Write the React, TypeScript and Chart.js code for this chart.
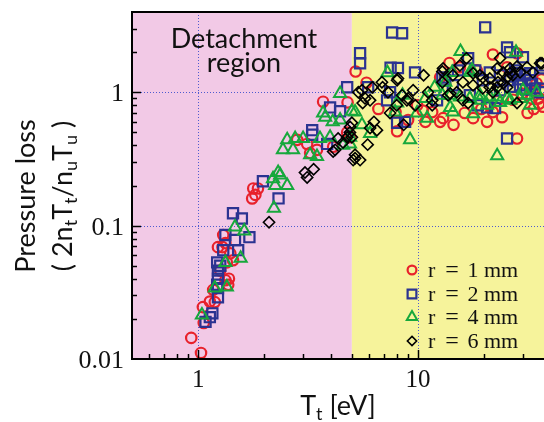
import { useEffect, useRef } from "react";
import { Chart, registerables } from "chart.js";

Chart.register(...registerables);

// [target temperature T_t (eV), pressure loss 2 n_t T_t / (n_u T_u)]
type Pt = [number, number];

const r1mm: Pt[] = [
  [0.93, 0.0144], [1.03, 0.0111], [1.05, 0.0245], [1.06, 0.0186], [1.13, 0.027],
  [1.17, 0.033], [1.19, 0.0267], [1.26, 0.046], [1.33, 0.039], [1.38, 0.04],
  [1.35, 0.053], [1.37, 0.036], [1.4, 0.062], [1.44, 0.055], [1.23, 0.069],
  [1.29, 0.069], [1.3, 0.085], [1.33, 0.074], [1.76, 0.16], [1.78, 0.19],
  [1.87, 0.19], [1.82, 0.17], [2.82, 0.44], [3.13, 0.41], [3.23, 0.35],
  [3.47, 0.37], [3.7, 0.85], [4.11, 0.39], [4.78, 0.84], [4.76, 0.5],
  [4.91, 0.46], [5.2, 1.43], [5.83, 1.18], [6.6, 0.75], [7.9, 0.71],
  [8.03, 0.51], [9.01, 0.62], [9.9, 0.8], [10.5, 0.73], [10.8, 0.6],
  [11.6, 0.71], [12.6, 0.6], [12.6, 1.29], [13.0, 0.64], [13.9, 1.66],
  [14.5, 0.57], [15.5, 1.54], [16.3, 0.7], [17.8, 0.64], [18.5, 1.46],
  [19.4, 0.75], [20.6, 0.6], [21.9, 1.92], [21.9, 0.71], [24.1, 0.65],
  [25.4, 1.54], [28.2, 1.96], [28.2, 0.45], [29.7, 0.98], [32.3, 1.17],
  [32.9, 0.9], [33.6, 0.75], [34.6, 1.17], [35.5, 0.9], [36.8, 1.05],
  [35.5, 0.82], [37.0, 0.78], [31.5, 0.7], [36.5, 1.25], [27.0, 0.88],
  [23.0, 0.86],
];

const r2mm: Pt[] = [
  [1.08, 0.019], [1.13, 0.0206], [1.16, 0.022], [1.22, 0.036], [1.23, 0.029],
  [1.23, 0.034], [1.23, 0.04], [1.23, 0.046], [1.22, 0.053], [1.26, 0.05],
  [1.3, 0.0655], [1.52, 0.0655], [1.47, 0.078], [1.33, 0.085], [1.71, 0.082],
  [1.58, 0.113], [1.44, 0.124], [1.97, 0.215], [2.32, 0.16], [3.3, 0.52],
  [3.3, 0.48], [3.86, 0.41], [3.98, 0.77], [4.42, 0.72], [4.76, 1.09],
  [5.45, 1.96], [5.45, 1.65], [5.93, 1.09], [7.23, 0.87], [7.46, 1.0],
  [7.5, 1.53], [8.1, 1.52], [7.62, 2.81], [8.46, 2.77], [8.03, 0.59],
  [8.73, 0.6], [9.69, 1.41], [12.2, 0.87], [12.9, 1.29], [13.3, 1.23],
  [14.4, 1.13], [15.2, 1.46], [16.9, 1.8], [17.2, 0.95], [18.2, 1.46],
  [18.7, 0.8], [19.7, 1.23], [20.2, 3.07], [20.6, 0.77], [21.2, 1.41],
  [22.4, 0.76], [23.6, 1.035], [23.6, 1.34], [25.4, 2.17], [25.4, 0.45],
  [26.2, 2.0], [26.2, 1.23], [27.6, 1.46], [28.2, 1.39], [29.1, 1.13],
  [30.0, 1.83], [30.6, 1.34], [32.3, 1.23], [32.3, 1.39], [34.0, 1.07],
  [35.9, 1.27], [36.6, 1.59], [36.0, 1.0], [33.0, 1.15], [31.0, 1.05],
  [28.5, 1.25], [27.0, 1.1],
];

const r4mm: Pt[] = [
  [1.04, 0.0214], [1.19, 0.034], [1.35, 0.0346], [1.33, 0.053], [1.56, 0.057],
  [1.47, 0.0975], [1.62, 0.091], [2.21, 0.135], [2.19, 0.225], [2.31, 0.25],
  [2.36, 0.24], [2.24, 0.2], [2.54, 0.2], [2.43, 0.37], [2.54, 0.44],
  [2.7, 0.37], [2.76, 0.45], [3.0, 0.45], [3.23, 0.34], [3.47, 0.33],
  [3.58, 0.45], [3.7, 0.7], [3.78, 0.65], [3.98, 0.46], [4.09, 0.6],
  [4.42, 0.62], [4.42, 0.98], [4.56, 0.4], [4.9, 0.41], [4.91, 0.46],
  [5.0, 0.72], [5.17, 0.71], [5.56, 0.57], [6.05, 0.49], [7.26, 1.4],
  [7.86, 0.71], [8.03, 0.83], [8.5, 0.95], [9.2, 0.44], [9.9, 0.7],
  [10.8, 0.9], [11.0, 0.64], [11.9, 1.09], [12.9, 0.95], [13.3, 1.19],
  [14.0, 0.77], [14.0, 0.95], [14.3, 1.41], [14.4, 0.71], [15.6, 2.02],
  [15.5, 0.92], [17.2, 1.41], [17.2, 0.9], [17.6, 1.46], [17.8, 0.69],
  [19.1, 0.87], [19.1, 0.95], [20.6, 0.8], [21.2, 0.92], [22.9, 0.92],
  [22.9, 0.335], [23.6, 0.84], [25.4, 0.9], [26.2, 0.87], [27.9, 2.0],
  [29.1, 0.9], [30.0, 1.035], [31.3, 0.95], [32.3, 0.8], [34.6, 1.0],
];

const r6mm: Pt[] = [
  [2.1, 0.106], [3.06, 0.25], [3.13, 0.23], [3.35, 0.265], [4.11, 0.36],
  [4.2, 0.37], [4.33, 0.45], [4.56, 0.42], [4.76, 0.46], [4.9, 0.5],
  [4.91, 0.55], [5.0, 0.59], [5.0, 0.46], [5.07, 0.31], [5.17, 0.34],
  [5.17, 0.32], [5.45, 0.31], [5.35, 1.0], [5.56, 1.035], [5.6, 0.83],
  [5.74, 0.9], [5.9, 0.405], [6.05, 0.87], [6.05, 0.54], [6.2, 1.09],
  [6.3, 0.6], [6.5, 0.52], [6.85, 1.19], [6.9, 1.09], [7.3, 1.0],
  [7.46, 0.7], [8.0, 0.8], [8.03, 1.23], [8.1, 1.27], [8.46, 0.95],
  [8.6, 0.57], [8.9, 0.87], [9.0, 0.9], [9.5, 1.035], [9.7, 0.8],
  [10.6, 1.34], [11.1, 1.0], [11.6, 0.87], [11.6, 0.8], [12.9, 1.43],
  [12.9, 1.19], [13.0, 1.51], [13.7, 0.95], [14.0, 0.98], [14.4, 1.34],
  [15.0, 1.0], [15.5, 1.59], [16.0, 1.19], [16.0, 0.87], [16.6, 1.8],
  [16.9, 0.83], [17.8, 1.39], [17.8, 1.13], [19.1, 1.34], [19.7, 1.29],
  [19.7, 1.07], [21.2, 1.27], [21.2, 1.09], [21.9, 1.0], [22.9, 1.09],
  [22.9, 1.51], [23.1, 1.19], [23.6, 1.8], [24.4, 1.41], [24.4, 1.17],
  [25.4, 1.29], [25.4, 1.09], [26.2, 1.51], [26.2, 1.39], [27.0, 1.34],
  [28.2, 1.56], [28.2, 0.83], [29.1, 1.41], [31.3, 1.54], [33.3, 1.41],
  [35.9, 1.65], [36.6, 1.65],
];

const seriesLabels = ["r = 1 mm", "r = 2 mm", "r = 4 mm", "r = 6 mm"];
const xTickValues = [1, 10];
const xTickLabels = ["1", "10"];
const yTickValues = [0.01, 0.1, 1];
const yTickLabels = ["0.01", "0.1", "1"];
const xRange: [number, number] = [0.5, 37.4];
const yRange: [number, number] = [0.01, 4];
const detachmentEdge = 5; // eV, upper end of the detachment region

const RED = "#e8212b";
const BLUE = "#2b3391";
const GREEN = "#17a83c";
const BLACK = "#000000";
const PINK = "#f2c9e6";
const YELLOW = "#f6f39b";
const GRID = "#4f5bd0";
const INK = "#111111";
const SANS = "Lato, 'Open Sans', sans-serif";
const SERIF = "'Liberation Serif', 'DejaVu Serif', serif";

type Marker = "circle" | "rect" | "triangle" | "rectRot";

const series: { data: Pt[]; color: string; style: Marker; radius: number; width: number }[] = [
  { data: r1mm, color: RED, style: "circle", radius: 5.2, width: 2.2 },
  { data: r2mm, color: BLUE, style: "rect", radius: 7.2, width: 2.2 },
  { data: r4mm, color: GREEN, style: "triangle", radius: 7, width: 2 },
  { data: r6mm, color: BLACK, style: "rectRot", radius: 5.6, width: 1.6 },
];

function marker(ctx: CanvasRenderingContext2D, style: Marker, x: number, y: number, r: number) {
  ctx.beginPath();
  if (style === "circle") {
    ctx.arc(x, y, r, 0, Math.PI * 2);
  } else if (style === "rect") {
    const h = r * Math.SQRT1_2;
    ctx.rect(x - h, y - h, 2 * h, 2 * h);
  } else if (style === "triangle") {
    for (let k = 0; k < 3; k++) {
      const a = (k * 2 * Math.PI) / 3;
      const px = x + Math.sin(a) * r;
      const py = y - Math.cos(a) * r;
      if (k === 0) ctx.moveTo(px, py);
      else ctx.lineTo(px, py);
    }
    ctx.closePath();
  } else {
    ctx.moveTo(x, y - r);
    ctx.lineTo(x + r, y);
    ctx.lineTo(x, y + r);
    ctx.lineTo(x - r, y);
    ctx.closePath();
  }
  ctx.stroke();
}

type Run = { t: string; sub?: boolean };

// draws a line of text with subscripts, centred on cx
function drawRuns(ctx: CanvasRenderingContext2D, runs: Run[], cx: number, base: number, size: number) {
  const main = `${size}px ${SANS}`;
  const small = `${Math.round(size * 0.66)}px ${SANS}`;
  let w = 0;
  for (const r of runs) {
    ctx.font = r.sub ? small : main;
    w += ctx.measureText(r.t).width;
  }
  let x = cx - w / 2;
  ctx.textAlign = "left";
  ctx.textBaseline = "alphabetic";
  for (const r of runs) {
    ctx.font = r.sub ? small : main;
    ctx.fillText(r.t, x, base + (r.sub ? size * 0.2 : 0));
    x += ctx.measureText(r.t).width;
  }
}

function minorValues(lo: number, hi: number) {
  const out: { v: number; major: boolean }[] = [];
  for (let e = Math.floor(Math.log10(lo)); e <= Math.ceil(Math.log10(hi)); e++) {
    for (let m = 1; m <= 9; m++) {
      const v = m * Math.pow(10, e);
      if (v > lo * 1.0001 && v < hi * 0.9999) out.push({ v, major: m === 1 });
    }
  }
  return out;
}

const frame = {
  id: "frame",
  beforeDatasetsDraw(chart: Chart) {
    const { ctx, chartArea: a } = chart;
    const x = chart.scales.x;
    const y = chart.scales.y;
    const edge = x.getPixelForValue(detachmentEdge);
    ctx.save();
    ctx.fillStyle = PINK;
    ctx.fillRect(a.left, a.top, edge - a.left, a.bottom - a.top);
    ctx.fillStyle = YELLOW;
    ctx.fillRect(edge, a.top, a.right - edge, a.bottom - a.top);

    ctx.strokeStyle = GRID;
    ctx.lineWidth = 1;
    ctx.setLineDash([1, 2]);
    for (const v of xTickValues) {
      const px = Math.round(x.getPixelForValue(v)) + 0.5;
      ctx.beginPath();
      ctx.moveTo(px, a.top);
      ctx.lineTo(px, a.bottom);
      ctx.stroke();
    }
    for (const v of yTickValues) {
      const py = Math.round(y.getPixelForValue(v)) + 0.5;
      ctx.beginPath();
      ctx.moveTo(a.left, py);
      ctx.lineTo(a.right, py);
      ctx.stroke();
    }
    ctx.setLineDash([]);

    ctx.fillStyle = INK;
    ctx.textAlign = "center";
    ctx.textBaseline = "alphabetic";
    ctx.font = `27px ${SANS}`;
    const cx = (a.left + edge) / 2 + 2;
    ctx.fillText("Detachment", cx, a.top + 36);
    ctx.fillText("region", cx, a.top + 60);
    ctx.restore();
  },
  afterDatasetsDraw(chart: Chart) {
    const { ctx, chartArea: a } = chart;
    const x = chart.scales.x;
    const y = chart.scales.y;
    ctx.save();

    // axis frame
    ctx.strokeStyle = "#000";
    ctx.lineWidth = 2;
    ctx.beginPath();
    ctx.moveTo(a.right + 2, a.top);
    ctx.lineTo(a.left, a.top);
    ctx.lineTo(a.left, a.bottom);
    ctx.lineTo(a.right + 2, a.bottom);
    ctx.stroke();

    // inward tick marks
    ctx.lineWidth = 1.5;
    for (const t of minorValues(xRange[0], xRange[1])) {
      const px = Math.round(x.getPixelForValue(t.v)) + 0.5;
      ctx.beginPath();
      ctx.moveTo(px, a.bottom);
      ctx.lineTo(px, a.bottom - (t.major ? 9 : 5));
      ctx.stroke();
    }
    for (const t of minorValues(yRange[0], yRange[1])) {
      const py = Math.round(y.getPixelForValue(t.v)) + 0.5;
      ctx.beginPath();
      ctx.moveTo(a.left, py);
      ctx.lineTo(a.left + (t.major ? 9 : 5), py);
      ctx.stroke();
    }

    // tick labels
    ctx.fillStyle = INK;
    ctx.textBaseline = "alphabetic";
    ctx.font = `25px ${SERIF}`;
    ctx.textAlign = "center";
    xTickValues.forEach((v, i) => {
      ctx.fillText(xTickLabels[i], x.getPixelForValue(v), a.bottom + 28);
    });
    ctx.font = `26px ${SERIF}`;
    ctx.textAlign = "right";
    yTickValues.forEach((v, i) => {
      ctx.fillText(yTickLabels[i], a.left - 8, y.getPixelForValue(v) + 9);
    });

    // legend
    const lx = 412;
    const rows = [270, 294, 317, 341];
    series.forEach((s, i) => {
      ctx.strokeStyle = s.color;
      ctx.lineWidth = s.width;
      const r = s.style === "rect" ? 6.2 : s.style === "triangle" ? 6 : s.style === "rectRot" ? 4.6 : 4.4;
      marker(ctx, s.style, lx, rows[i], r);
      const parts = seriesLabels[i].split(" ");
      const base = rows[i] + 7;
      ctx.fillStyle = INK;
      ctx.font = `22px ${SERIF}`;
      ctx.textAlign = "left";
      ctx.fillText(parts[0], 428, base);
      ctx.textAlign = "center";
      ctx.font = `24px ${SERIF}`;
      ctx.fillText(parts[1], 452, base);
      ctx.font = `22px ${SERIF}`;
      ctx.fillText(parts[2], 473, base);
      ctx.textAlign = "left";
      ctx.fillText(parts[3], 484, base);
    });

    // axis titles
    ctx.fillStyle = INK;
    drawRuns(ctx, [{ t: "T" }, { t: "t", sub: true }, { t: " [eV]" }], (a.left + a.right) / 2, 415, 27);

    ctx.translate(0, 196);
    ctx.rotate(-Math.PI / 2);
    drawRuns(ctx, [{ t: "Pressure loss" }], 0, 35, 27);
    drawRuns(
      ctx,
      [
        { t: "( 2n" }, { t: "t", sub: true }, { t: "T" }, { t: "t", sub: true },
        { t: "/n" }, { t: "u", sub: true }, { t: "T" }, { t: "u", sub: true }, { t: " )" },
      ],
      0,
      72,
      27
    );
    ctx.restore();
  },
};

export default function App() {
  const ref = useRef<HTMLCanvasElement>(null);

  useEffect(() => {
    document.body.style.margin = "0";
    const canvas = ref.current;
    if (!canvas) return;
    const chart = new Chart(canvas, {
      type: "scatter",
      data: {
        datasets: series.map((s, i) => ({
          label: seriesLabels[i],
          data: s.data.map(([t, p]) => ({ x: t, y: p })),
          showLine: false,
          pointStyle: s.style,
          pointRadius: s.radius,
          pointHoverRadius: s.radius,
          pointBorderColor: s.color,
          pointBackgroundColor: "rgba(0,0,0,0)",
          pointBorderWidth: s.width,
          borderColor: s.color,
          backgroundColor: "rgba(0,0,0,0)",
          order: series.length - i,
        })),
      },
      options: {
        responsive: false,
        animation: false,
        devicePixelRatio: 1,
        events: [],
        layout: { autoPadding: false, padding: { left: 132, top: 12, right: 0, bottom: 63 } },
        plugins: { legend: { display: false }, tooltip: { enabled: false } },
        scales: {
          x: { type: "logarithmic", min: xRange[0], max: xRange[1], display: false },
          y: { type: "logarithmic", min: yRange[0], max: yRange[1], display: false },
        },
      },
      plugins: [frame],
    });
    return () => chart.destroy();
  }, []);

  return <canvas ref={ref} width={544} height={422} style={{ display: "block" }} />;
}
